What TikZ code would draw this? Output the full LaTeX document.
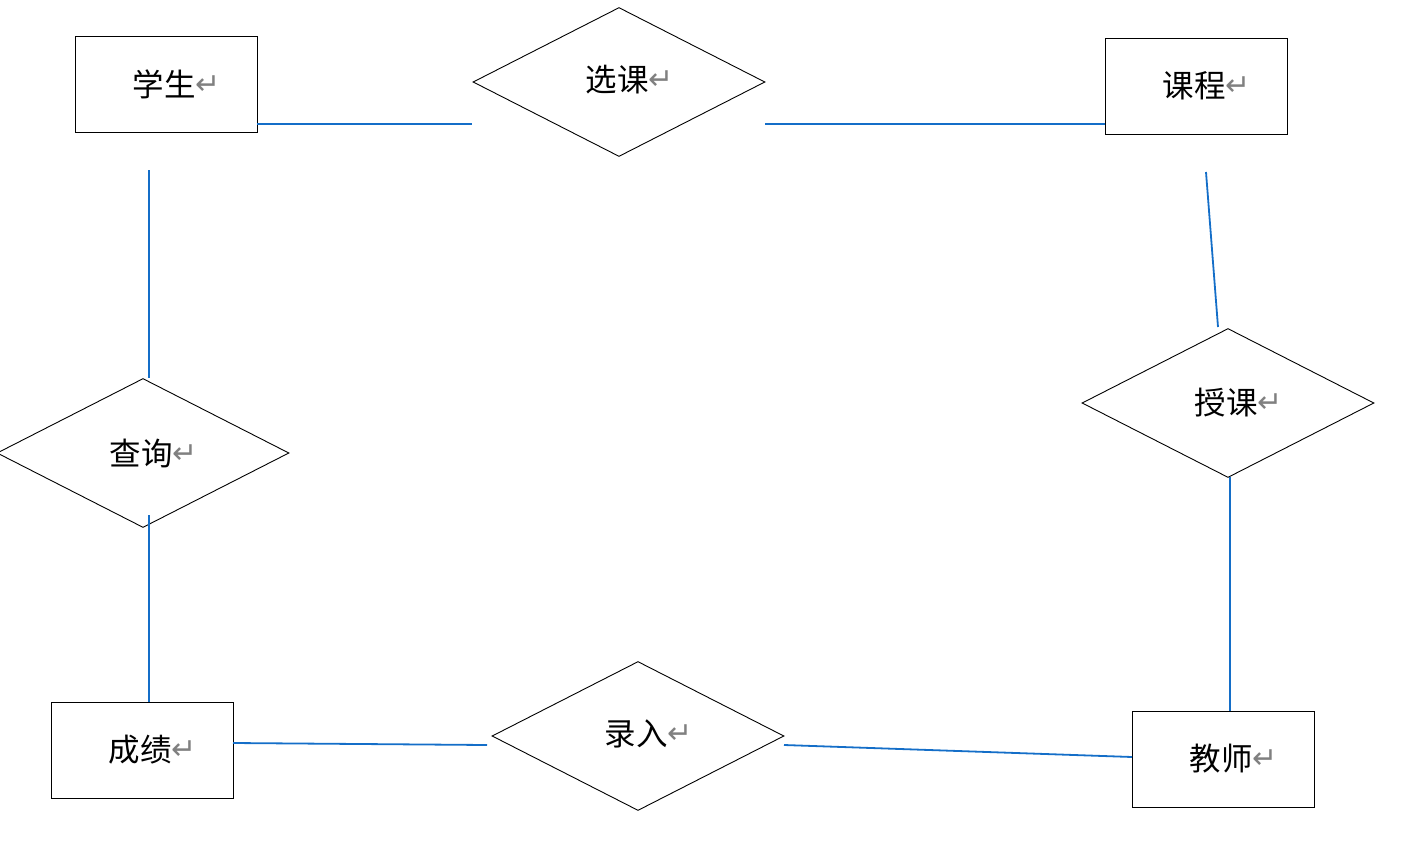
\documentclass[tikz,border=0pt]{standalone}
\usepackage{fontspec}
\usetikzlibrary{shapes.geometric}
\newfontfamily\cjk{Noto Sans CJK SC}
\newfontfamily\symf{DejaVu Sans}
\definecolor{linkblue}{RGB}{20,110,200}
\definecolor{retgray}{RGB}{128,128,128}
\newcommand{\ret}{\raisebox{2pt}{\symf\fontsize{30}{34}\selectfont\textcolor{retgray}{↵}}}
\tikzset{
  entity/.style={draw=black,line width=1pt,rectangle,minimum width=182pt,minimum height=96pt,inner sep=0pt},
  relation/.style={draw=black,line width=0.9pt,diamond,minimum width=292pt,minimum height=149pt,inner sep=0pt},
  lbl/.style={font=\cjk\fontsize{31.5}{36}\selectfont,inner sep=0pt,anchor=center},
  link/.style={draw=linkblue,line width=1.8pt}
}
\begin{document}
\begin{tikzpicture}[x=1pt,y=-1pt]
\useasboundingbox (0,0) rectangle (1409,860);
% entities
\node[entity] (xs) at (166,84) {};
\node[entity] (kc) at (1196,86) {};
\node[entity] (cj) at (142,750) {};
\node[entity] (js) at (1223,759) {};
% relations
\node[relation] (xk) at (619,82) {};
\node[relation] (sk) at (1228,403) {};
\node[relation] (cx) at (143,453) {};
\node[relation] (lr) at (638,736) {};
% labels
\node[lbl] (txs) at ([xshift=11]xs.center) {学生\ret};
\node[lbl] (tkc) at ([xshift=11]kc.center) {课程\ret};
\node[lbl] (tcj) at ([xshift=11]cj.center) {成绩\ret};
\node[lbl] (tjs) at ([xshift=11]js.center) {教师\ret};
\node[lbl] (txk) at ([xshift=11,yshift=2]xk.center) {选课\ret};
\node[lbl] (tsk) at ([xshift=11]sk.center) {授课\ret};
\node[lbl] (tcx) at ([xshift=11]cx.center) {查询\ret};
\node[lbl] (tlr) at ([xshift=11,yshift=2]lr.center) {录入\ret};
% connector end points
\coordinate (a1) at (257,124);
\coordinate (a2) at (472,124);
\coordinate (b1) at (765,124);
\coordinate (b2) at (1105,124);
\coordinate (c1) at (149,170);
\coordinate (c2) at (149,378);
\coordinate (d1) at (1206,172);
\coordinate (d2) at (1218,327);
\coordinate (e1) at (149,515);
\coordinate (e2) at (149,702);
\coordinate (f1) at (233,743);
\coordinate (f2) at (487,745);
\coordinate (g1) at (784,745);
\coordinate (g2) at (1132,757);
\coordinate (h1) at (1230,477);
\coordinate (h2) at (1230,711);
% connectors
\draw[link] (a1) -- (a2);
\draw[link] (b1) -- (b2);
\draw[link] (c1) -- (c2);
\draw[link] (d1) -- (d2);
\draw[link] (e1) -- (e2);
\draw[link] (f1) -- (f2);
\draw[link] (g1) -- (g2);
\draw[link] (h1) -- (h2);
\end{tikzpicture}
\end{document}
